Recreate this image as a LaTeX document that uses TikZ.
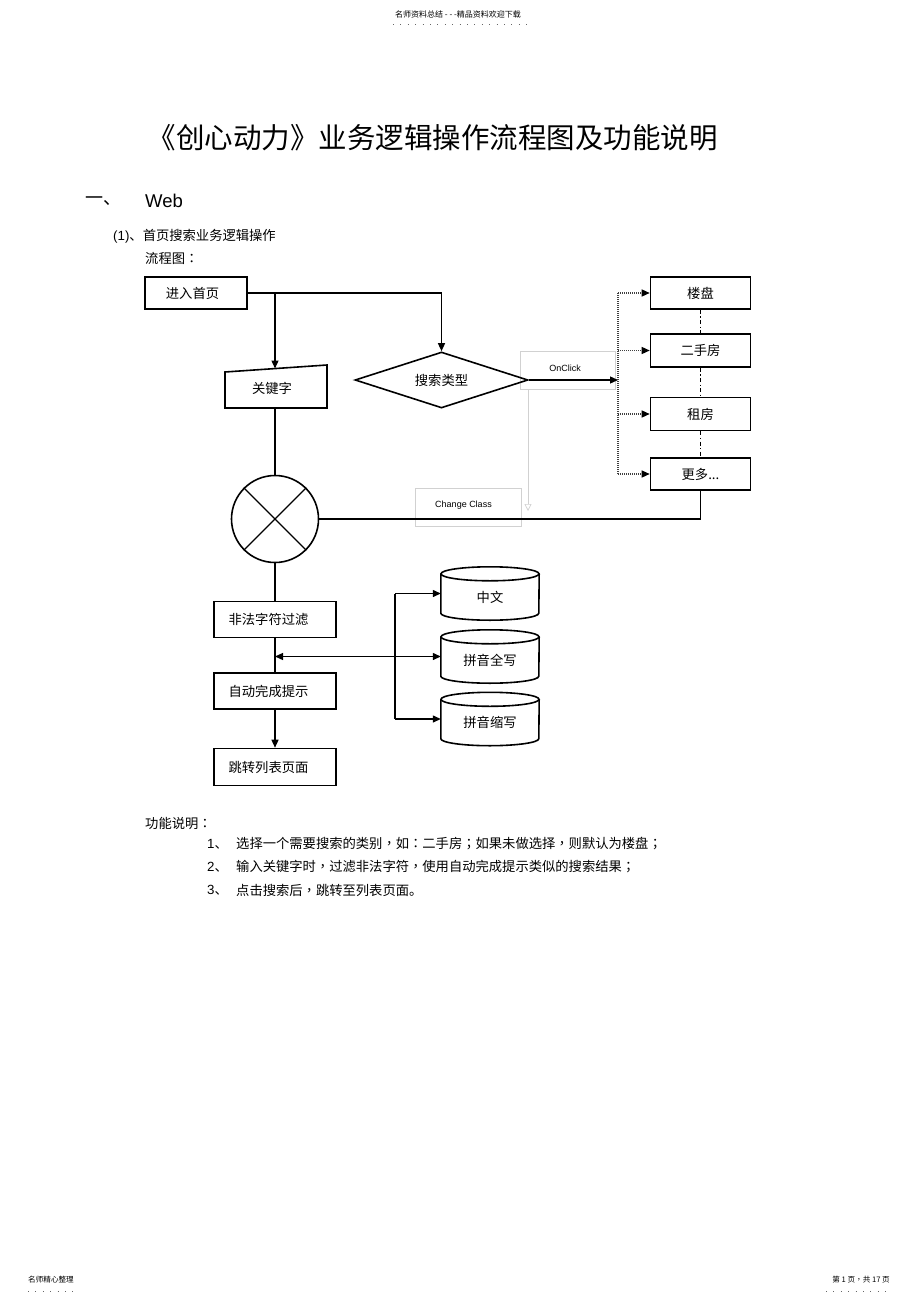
\documentclass[tikz,border=0pt]{standalone}
\usepackage{fontspec}
\setmainfont{Liberation Sans}
\newfontfamily\cjk{Noto Sans CJK SC}
\newfontfamily\cjkp{Noto Sans CJK TC}
\newcommand{\pc}[1]{{\cjkp #1}}
\usetikzlibrary{arrows.meta,shapes.geometric,calc}
\begin{document}
\begin{tikzpicture}[x=1pt,y=-1pt,
  tip/.style={-{Triangle[length=8pt,width=7pt]}},
  conn/.style={line width=1.3pt,black},
  fbox/.style={draw,line width=1.6pt,inner sep=0pt,font=\cjk\fontsize{13.3}{13.3}\selectfont},
  ghost/.style={inner sep=0pt,minimum width=98pt,minimum height=53pt},
  lite/.style={draw=black!18,line width=0.7pt},
  txt/.style={inner sep=0pt,anchor=west,font=\cjk\fontsize{13.3}{13.3}\selectfont},
  ctxt/.style={inner sep=0pt,font=\cjk\fontsize{13.3}{13.3}\selectfont},
  small/.style={inner sep=0pt,font=\fontsize{9}{9}\selectfont},
  dd/.style={line width=1.1pt,dash pattern=on 4pt off 2.5pt on 1.2pt off 2.5pt}]
\path[use as bounding box,fill=white] (0,0) rectangle (920,1303);

% header and footer
\node[inner sep=0pt,font=\cjk\fontsize{8}{8}\selectfont] (hdr) at (458,14) {名师资料总结 - - -精品资料欢迎下载};
\draw[black!60,line width=0.8pt,dash pattern=on 0.8pt off 6.6pt] (393,24) -- (527,24);
\node[inner sep=0pt,anchor=west,font=\cjk\fontsize{7.6}{8}\selectfont] (ftl) at (28,1280) {名师精心整理};
\draw[black!60,line width=0.8pt,dash pattern=on 0.8pt off 6.6pt] (28,1291) -- (76,1291);
\node[inner sep=0pt,anchor=east,font=\cjk\fontsize{7.6}{8}\selectfont] (ftr) at (890,1280) {第 1 页\pc{，}共 17 页};
\draw[black!60,line width=0.8pt,dash pattern=on 0.8pt off 6.6pt] (826,1291) -- (890,1291);

% titles
\node[inner sep=0pt,font=\cjk\fontsize{28.5}{30}\selectfont] (title) at (432.5,138) {《创心动力》业务逻辑操作流程图及功能说明};
\node[inner sep=0pt,anchor=west,font=\cjk\fontsize{18}{18}\selectfont] (sec) at (85,201) {一、};
\node[inner sep=0pt,anchor=west,font=\fontsize{18.5}{18.5}\selectfont] (web) at (145,201) {Web};
\node[txt] (sub) at (113,236) {{\fontspec{Liberation Sans}(1)}、首页搜索业务逻辑操作};
\node[txt] (lct) at (145,258) {流程图\pc{：}};

% light annotation boxes
\node[lite,minimum width=95pt,minimum height=38pt] (onbox) at (568,370) {};
\node[small] (ontxt) at (565,368) {OnClick};
\node[lite,minimum width=106pt,minimum height=38pt] (ccbox) at (468,507) {};
\node[small] (cctxt) at (463.5,505) {Change Class};
\coordinate (gtop) at (528,390);
\coordinate (gbot) at (528,511);
\draw[black!18,line width=0.7pt,-{Triangle[open,length=7pt,width=7pt]}] (gtop) -- (gbot);

% main nodes
\node[fbox,minimum width=102pt,minimum height=32pt] (home) at (196,293) {进入首页\hspace*{7pt}};
\coordinate (k1) at (225,372);
\coordinate (k2) at (327,365);
\coordinate (k3) at (327,408);
\coordinate (k4) at (225,408);
\draw[line width=1.6pt] (k1) -- (k2) -- (k3) -- (k4) -- cycle;
\node[ctxt] (kw) at (272,388) {关键字};
\coordinate (kwtop) at (275,368.5);
\coordinate (kwbot) at (275,408);

\node[diamond,draw,line width=1.6pt,aspect=3,minimum width=173pt,minimum height=56pt,inner sep=0pt,font=\cjk\fontsize{13.3}{13.3}\selectfont] (diam) at (441.5,380) {搜索类型};

\node[fbox,minimum width=100pt,minimum height=32pt] (loupan) at (700.5,293) {楼盘};
\node[fbox,minimum width=100pt,minimum height=33pt] (ershou) at (700.5,350.5) {二手房};
\node[fbox,minimum width=100pt,minimum height=33pt] (zufang) at (700.5,414) {租房};
\node[fbox,minimum width=100pt,minimum height=32pt] (more) at (700.5,474) {更多...};

\node[circle,draw,line width=1.6pt,minimum size=87pt,inner sep=0pt] (circ) at (275,519) {};
\draw[line width=1.3pt] (circ.north west) -- (circ.south east);
\draw[line width=1.3pt] (circ.north east) -- (circ.south west);

\node[fbox,minimum width=122pt,minimum height=36pt] (filter) at (275,619.5) {非法字符过滤\hspace*{13pt}};
\node[fbox,minimum width=122pt,minimum height=36pt] (autoc) at (275,691) {自动完成提示\hspace*{13pt}};
\node[fbox,minimum width=122pt,minimum height=37pt] (jump) at (275,767) {跳转列表页面\hspace*{13pt}};

\node[ghost] (zw) at (490,593.5) {};
\node[ghost] (qp) at (490,656.5) {};
\node[ghost] (sx) at (490,719) {};
\foreach \c in {zw,qp,sx}{
  \draw[line width=1.6pt] ($(\c.north)+(0,7)$) ellipse [x radius=49pt,y radius=7pt];
  \draw[line width=1.6pt] ($(\c.north west)+(0,7)$) -- ($(\c.south west)+(0,-7)$)
     arc[start angle=180,end angle=360,x radius=49pt,y radius=7pt] -- ($(\c.north east)+(0,7)$);
}
\node[ctxt] (zwt) at ($(zw.center)+(0,3.5)$) {中文};
\node[ctxt] (qpt) at ($(qp.center)+(0,3.5)$) {拼音全写};
\node[ctxt] (sxt) at ($(sx.center)+(0,3.5)$) {拼音缩写};

% connectors
\draw[conn,tip] (home.east) -| (diam.north);
\draw[conn,tip] (home.east -| kwtop) -- (kwtop);
\coordinate (bus) at (618,380);
\draw[conn,tip] (diam.east) -- (bus);
\draw[line width=1.3pt,black!75,dash pattern=on 1pt off 1pt] (loupan.west -| bus) -- (more.west -| bus);
\foreach \b in {loupan,ershou,zufang,more}{
  \draw[line width=1.3pt,black!75,dash pattern=on 1pt off 1pt,-{Triangle[length=8pt,width=7pt,color=black,fill=black]}] (\b.west -| bus) -- (\b.west);
}
\draw[dd] (loupan.south) -- (ershou.north);
\draw[dd] (ershou.south) -- (zufang.north);
\draw[dd] (zufang.south) -- (more.north);
\draw[conn] (more.south) |- (circ.east);
\draw[conn] (kwbot) -- (circ.north);
\draw[conn] (circ.south) -- (filter.north);
\draw[conn] (filter.south) -- (autoc.north);
\draw[conn,tip] (autoc.south) -- (jump.north);
\coordinate (hub) at (395,656.5);
\coordinate (mid) at (275,656.5);
\draw[conn,tip] (hub) -- (mid);
\draw[conn,tip] (hub) -- (qp.west);
\draw[conn] (zw.west -| hub) -- (sx.west -| hub);
\draw[conn,tip] (zw.west -| hub) -- (zw.west);
\draw[conn,tip] (sx.west -| hub) -- (sx.west);

% description
\node[txt] (fn) at (145,823) {功能说明\pc{：}};
\node[inner sep=0pt,anchor=west,font=\fontsize{13.3}{13.3}\selectfont] (n1) at (207,844) {1{\cjk 、}};
\node[txt] (t1) at (236,844) {选择一个需要搜索的类别\pc{，}如\pc{：}二手房\pc{；}如果未做选择\pc{，}则默认为楼盘\pc{；}};
\node[inner sep=0pt,anchor=west,font=\fontsize{13.3}{13.3}\selectfont] (n2) at (207,867) {2{\cjk 、}};
\node[txt] (t2) at (236,867) {输入关键字时\pc{，}过滤非法字符\pc{，}使用自动完成提示类似的搜索结果\pc{；}};
\node[inner sep=0pt,anchor=west,font=\fontsize{13.3}{13.3}\selectfont] (n3) at (207,890) {3{\cjk 、}};
\node[txt] (t3) at (236,890) {点击搜索后\pc{，}跳转至列表页面。};
\end{tikzpicture}
\end{document}
